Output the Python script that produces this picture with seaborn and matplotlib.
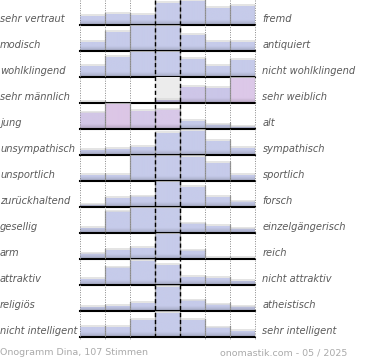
import numpy as np
import matplotlib
matplotlib.use("Agg")
import matplotlib.pyplot as plt
import matplotlib.colors as mcolors
import seaborn as sns

left_labels = ["sehr vertraut", "modisch", "wohlklingend", "sehr männlich", "jung",
               "unsympathisch", "unsportlich", "zurückhaltend", "gesellig", "arm",
               "attraktiv", "religiös", "nicht intelligent"]
right_labels = ["fremd", "antiquiert", "nicht wohlklingend", "sehr weiblich", "alt",
                "sympathisch", "sportlich", "forsch", "einzelgängerisch", "reich",
                "nicht attraktiv", "atheistisch", "sehr intelligent"]
bins = [1, 2, 3, 4, 5, 6, 7]

vertraut = [9, 11.5, 10, 22, 24, 17.5, 19.5]
modisch = [9, 19, 25, 25, 16, 9, 9]
wohlklingend = [11.5, 20.5, 25, 25, 18, 11, 17]
maennlich = [1.5, 0, 0, 3.5, 16.5, 15, 25]
jung = [16.5, 25, 18, 19.5, 8, 4.5, 2.5]
unsympathisch = [5.5, 6.5, 8.5, 22.5, 24, 14.5, 7.5]
unsportlich = [6, 6, 25, 25, 24, 18, 6]
zurueckhaltend = [2.7, 9, 10.7, 25, 20.5, 10.3, 5.7]
gesellig = [5, 21.5, 25, 25, 9.5, 7.3, 4.7]
arm = [5.7, 9, 11, 25, 8.7, 1.3, 1.3]
attraktiv = [6.3, 17.7, 24.5, 20, 8.5, 7.3, 4.5]
religioes = [4, 5, 8, 24, 10.7, 6.7, 4.7]
intelligent = [10, 10, 17.3, 24.3, 17.3, 9.7, 6.3]

rows = [vertraut, modisch, wohlklingend, maennlich, jung, unsympathisch, unsportlich,
        zurueckhaltend, gesellig, arm, attraktiv, religioes, intelligent]

footer_left = "Onogramm Dina, 107 Stimmen"
footer_right = "onomastik.com - 05 / 2025"

# styles
BASE = "#c6cbea"
row_colors = {3: ["#c8bce2", BASE, BASE, "#c8c2e4", "#cec6e8", "#cac6e8", "#dcc8e8"],
              4: ["#d2c6e6", "#dcc6e6", "#d4c8e8", "#d8c8e8", BASE, BASE, BASE]}

W, H = 370, 360
fig = plt.figure(figsize=(W / 100, H / 100), dpi=100)
x0, x1 = 80, 255
row_h = 26


def shade(c, f):
    r, g, b = mcolors.to_rgb(c)
    return (r * f, g * f, b * f)


for k, vals in enumerate(rows):
    yb = 25 + row_h * k
    ax = fig.add_axes([x0 / W, (H - yb) / H, (x1 - x0) / W, row_h / H])
    cols = row_colors.get(k, [BASE] * 7)
    sns.barplot(x=bins, y=vals, hue=bins, palette=cols, width=1, saturation=1,
                legend=False, ax=ax, zorder=2)
    bars = list(ax.patches)
    if k == 3:
        ax.axvspan(2.5, 3.5, color="#ececec", zorder=0)
    for p, c in zip(bars, cols):
        if p.get_height() <= 0:
            continue
        px0 = p.get_x()
        pw = p.get_width()
        ph = p.get_height()
        ys = np.linspace(0, row_h, 104)
        top = np.array(mcolors.to_rgb(c))
        bot = np.array(shade(c, 0.82))
        t = np.clip(ys / 5.0, 0, 1)[:, None]
        img = bot * (1 - t) + top * t
        im = ax.imshow(img[:, None, :], extent=(px0, px0 + pw, 0, row_h), origin="lower",
                       aspect="auto", zorder=3, interpolation="bilinear")
        im.set_clip_path(p)
        # top highlight line
        ax.plot([px0, px0 + pw], [ph + 0.6, ph + 0.6], color="#dcdcdc", lw=1.1,
                zorder=3.5, solid_capstyle="butt")
    # edge lines between bins
    for i in range(7):
        hh = max(vals[i], vals[i + 1]) if i < 6 else vals[i]
        if hh > 0:
            ax.plot([i + 0.5, i + 0.5], [0, hh + 1], color="#999999", lw=0.9, zorder=4)
    ax.axhline(0, color="black", lw=1.5, zorder=5, clip_on=False)
    ax.set_xlim(-0.5, 6.5)
    ax.set_ylim(0, row_h)
    ax.axis("off")

ov = fig.add_axes([0, 0, 1, 1], zorder=10)
ov.patch.set_visible(False)
ov.set_xlim(0, W)
ov.set_ylim(H, 0)
ov.axis("off")

for xv in [80, 105, 130, 205, 230, 255]:
    ov.plot([xv, xv], [0, 340], color="#888888", lw=0.7, ls=(0, (1, 1.5)), zorder=1)
for xv in [155, 180]:
    ov.plot([xv, xv], [0, 340], color="black", lw=1.0, ls=(0, (3, 2)), zorder=6)

for k, (lt, rt) in enumerate(zip(left_labels, right_labels)):
    yb = 25 + row_h * k
    ov.text(0, yb - 5.5, lt, fontsize=7.1, style="italic", color="#5a5a5a",
            ha="left", va="center")
    ov.text(262.5, yb - 5.5, rt, fontsize=7.1, style="italic", color="#5a5a5a",
            ha="left", va="center")

ov.text(0, 352.5, footer_left, fontsize=6.8, color="#aaaaaa", ha="left", va="center")
ov.text(347, 352.5, footer_right, fontsize=6.8, color="#aaaaaa", ha="right", va="center")

fig.savefig("out.png", dpi=100)
